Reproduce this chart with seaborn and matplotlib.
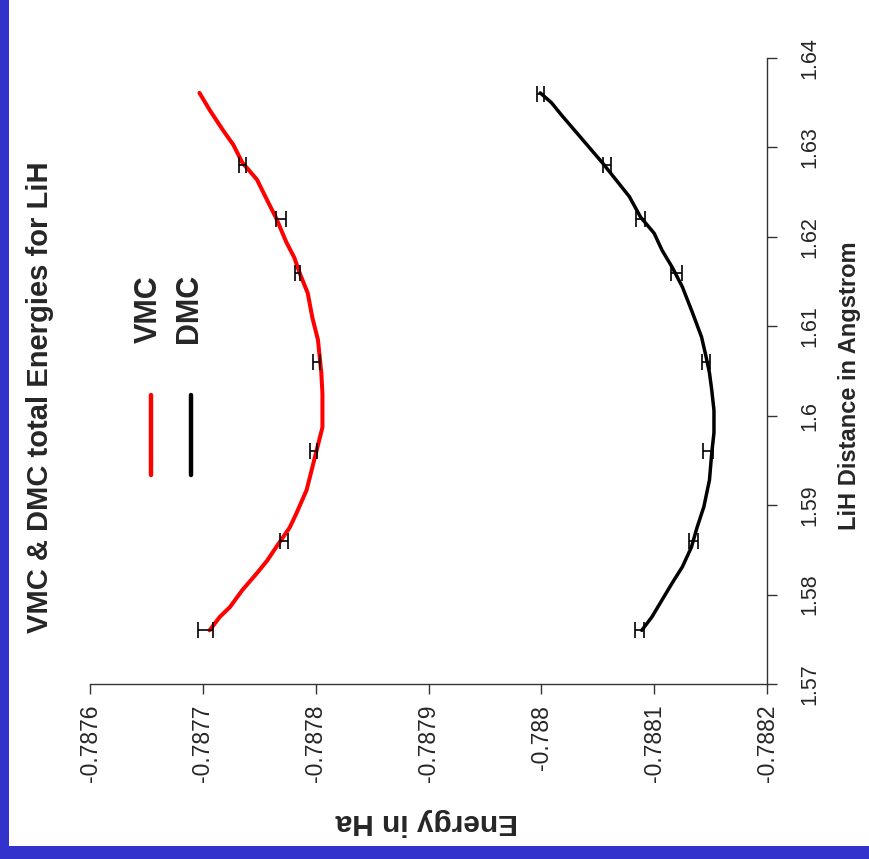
import matplotlib
matplotlib.use("Agg")
import matplotlib.pyplot as plt
import seaborn as sns
import pandas as pd
from matplotlib.patches import Rectangle
from matplotlib.lines import Line2D

# ---------------- data ----------------
vmc_dist = [1.6361, 1.6342, 1.6319, 1.6303, 1.6283, 1.6264, 1.6241, 1.6221, 1.6194,
            1.6177, 1.6159, 1.6137, 1.6110, 1.6085, 1.6048, 1.6025, 1.5987, 1.5962,
            1.5942, 1.5917, 1.5891, 1.5875, 1.5853, 1.5838, 1.5824, 1.5805, 1.5786,
            1.5775, 1.5760]
vmc_energy = [-0.787697, -0.787706, -0.787718, -0.787727, -0.787735, -0.787748, -0.787757,
              -0.787765, -0.787774, -0.787781, -0.787786, -0.787793, -0.787797, -0.787802,
              -0.787805, -0.787806, -0.787806, -0.787801, -0.787797, -0.787792, -0.787783,
              -0.787777, -0.787765, -0.787757, -0.787748, -0.787735, -0.787724, -0.787715,
              -0.787706]

dmc_dist = [1.6361, 1.6350, 1.6336, 1.6311, 1.6283, 1.6264, 1.6245, 1.6222, 1.6204,
            1.6185, 1.6166, 1.6144, 1.6115, 1.6088, 1.6066, 1.6048, 1.6029, 1.6006,
            1.5981, 1.5958, 1.5928, 1.5898, 1.5875, 1.5853, 1.5831, 1.5813, 1.5794,
            1.5775, 1.5760]
dmc_energy = [-0.787999, -0.788009, -0.788018, -0.788035, -0.788054, -0.788066, -0.788078,
              -0.788088, -0.788100, -0.788107, -0.788116, -0.788125, -0.788134, -0.788142,
              -0.788146, -0.788149, -0.788151, -0.788153, -0.788153, -0.788151, -0.788149,
              -0.788144, -0.788138, -0.788133, -0.788125, -0.788116, -0.788107, -0.788098,
              -0.788089]

vmc_pt_dist = [1.576, 1.586, 1.596, 1.606, 1.616, 1.622, 1.628]
vmc_pt_energy = [-0.787702, -0.787772, -0.787798, -0.787801, -0.787784, -0.787769, -0.787735]
vmc_pt_err = [0.0000066, 0.0000037, 0.0000030, 0.0000030, 0.0000020, 0.0000044, 0.0000030]

dmc_pt_dist = [1.576, 1.586, 1.596, 1.606, 1.616, 1.622, 1.628, 1.636]
dmc_pt_energy = [-0.788087, -0.788135, -0.788148, -0.788146, -0.788120, -0.788088, -0.788058, -0.787999]
dmc_pt_err = [0.0000037, 0.0000040, 0.0000044, 0.0000037, 0.0000047, 0.0000040, 0.0000035, 0.0000030]

energy_ticks = [-0.7876, -0.7877, -0.7878, -0.7879, -0.7880, -0.7881, -0.7882]
energy_labels = ["-0.7876", "-0.7877", "-0.7878", "-0.7879", "-0.788", "-0.7881", "-0.7882"]
dist_ticks = [1.57, 1.58, 1.59, 1.60, 1.61, 1.62, 1.63, 1.64]
dist_labels = ["1.57", "1.58", "1.59", "1.6", "1.61", "1.62", "1.63", "1.64"]

title = "VMC & DMC total Energies for LiH"
series_names = ["VMC", "DMC"]
series_colors = ["#FF0000", "#000000"]

# ---------------- figure ----------------
sns.set_style("white")
plt.rcParams["font.family"] = ["Liberation Sans", "DejaVu Sans"]

W, H = 870, 859
fig = plt.figure(figsize=(W / 100, H / 100), dpi=100)
fig.patch.set_facecolor("white")

def fx(px):
    return px / W

def fy(py):
    return 1 - py / H

ax_l, ax_r, ax_t, ax_b = 90, 767, 58, 684
ax = fig.add_axes([fx(ax_l), fy(ax_b), fx(ax_r) - fx(ax_l), fy(ax_t) - fy(ax_b)])
ax.set_facecolor("white")

vmc_df = pd.DataFrame({"energy": vmc_energy, "distance": vmc_dist})
dmc_df = pd.DataFrame({"energy": dmc_energy, "distance": dmc_dist})
sns.lineplot(data=vmc_df, x="energy", y="distance", sort=False, estimator=None,
             color=series_colors[0], linewidth=2.9, ax=ax)
sns.lineplot(data=dmc_df, x="energy", y="distance", sort=False, estimator=None,
             color=series_colors[1], linewidth=2.5, ax=ax)

for e, d, err in [(vmc_pt_energy, vmc_pt_dist, vmc_pt_err), (dmc_pt_energy, dmc_pt_dist, dmc_pt_err)]:
    ax.errorbar(e, d, xerr=err, fmt="none", ecolor="black", elinewidth=1.2,
                capsize=5.5, capthick=1.2, zorder=4)

ax.set_xlim(-0.7876, -0.7882)
ax.set_ylim(1.57, 1.64)

for s in ["left", "top"]:
    ax.spines[s].set_visible(False)
for s in ["bottom", "right"]:
    ax.spines[s].set_visible(True)
    ax.spines[s].set_color("#333333")
    ax.spines[s].set_linewidth(1.0)

ax.yaxis.tick_right()
ax.set_xticks(energy_ticks)
ax.set_xticklabels(energy_labels)
ax.set_yticks(dist_ticks)
ax.set_yticklabels(dist_labels)
ax.tick_params(axis="x", direction="out", length=7, width=1.0, color="#333333",
               pad=8, labelsize=16.5, labelrotation=90, bottom=True)
ax.tick_params(axis="y", direction="out", length=7, width=1.0, color="#333333",
               pad=16, labelsize=15.5, labelrotation=90, right=True, left=False)
for lbl in ax.get_xticklabels():
    lbl.set_ha("center")
    lbl.set_va("top")
for lbl in ax.get_yticklabels():
    lbl.set_ha("left")
    lbl.set_va("center")

# axis labels
ax.set_ylabel("LiH Distance in Angstrom", fontsize=17, fontweight="bold")
ax.yaxis.set_label_position("right")
yl = ax.yaxis.label
yl.set_rotation(90)
yl.set_rotation_mode("default")
yl.set_ha("left")
yl.set_va("center")
ax.yaxis.set_label_coords((838 - ax_l) / (ax_r - ax_l), (ax_b - 386) / (ax_b - ax_t))

ax.set_xlabel("Energy in Ha", fontsize=21.5, fontweight="bold")
xl = ax.xaxis.label
xl.set_rotation(180)
xl.set_rotation_mode("default")
xl.set_ha("center")
xl.set_va("top")
ax.xaxis.set_label_coords((427 - ax_l) / (ax_r - ax_l), (ax_b - 808) / (ax_b - ax_t))

# title
fig.text(fx(40), fy(397), title, rotation=90, ha="center", va="center",
         fontsize=21, fontweight="bold")

# legend (rotated)
for name, col, xpos in zip(series_names, series_colors, [150, 190]):
    fig.add_artist(Line2D([fx(xpos + 1), fx(xpos + 1)], [fy(395), fy(475)],
                          color=col, linewidth=3.2, transform=fig.transFigure))
    fig.text(fx(xpos - 1), fy(343), name, rotation=90, ha="center", va="bottom",
             fontsize=22, fontweight="bold")

# blue frame
blue = "#3333CC"
fig.add_artist(Rectangle((0, 0), fx(9), 1, transform=fig.transFigure,
                         facecolor=blue, edgecolor="none", zorder=10))
fig.add_artist(Rectangle((0, 0), 1, (H - 846) / H, transform=fig.transFigure,
                         facecolor=blue, edgecolor="none", zorder=10))

fig.savefig("out.png", dpi=100)
